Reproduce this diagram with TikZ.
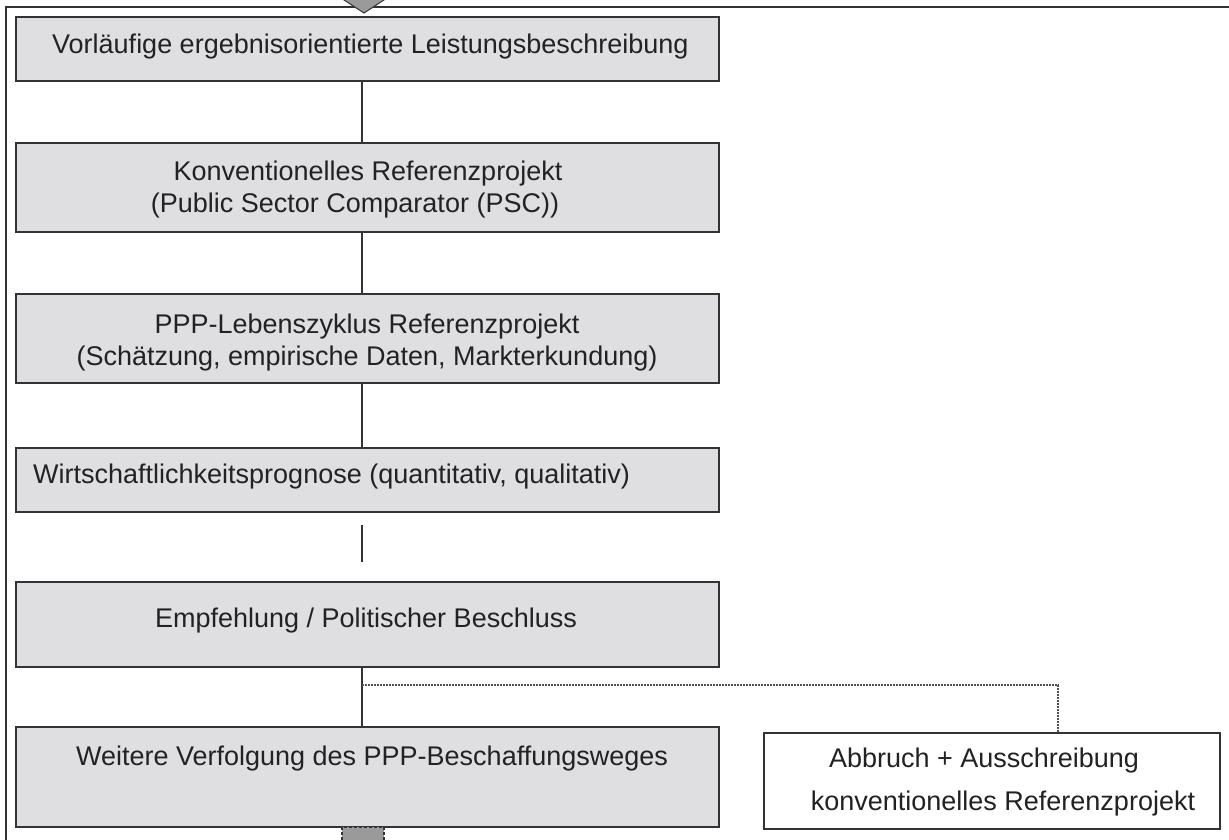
\documentclass[tikz,border=0pt]{standalone}
\usepackage{fontspec}
\setmainfont{Liberation Sans}
\begin{document}
\begin{tikzpicture}[x=1pt, y=-1pt,
    stepbox/.style={draw=borderColour, fill=fillColourBox, line width=1.5pt, inner sep=0pt, outer sep=0pt, anchor=north west, minimum width=703pt},
    plainbox/.style={draw=borderColour, fill=white, line width=1.5pt, inner sep=0pt, outer sep=0pt, anchor=north west, minimum width=456pt},
    boxtext/.style={font=\fontsize{27}{32}\selectfont, text=textColour, inner sep=0pt, anchor=base},
    link/.style={draw=borderColour, line width=1.5pt},
    dotlink/.style={draw=borderColour!85, line width=1.2pt, dash pattern=on 2pt off 1pt}]
    \definecolor{borderColour}{HTML}{333333}
    \definecolor{fillColourBox}{HTML}{DFDFE1}
    \definecolor{textColour}{HTML}{222222}
    \definecolor{arrowColour}{HTML}{9A9A9A}

    \useasboundingbox (0,0) rectangle (1229,839);
    \clip (0,0) rectangle (1229,839);

    % Draw outer frame
    \draw[draw=borderColour, line width=2.2pt] (6,845) -- (6,7) -- (1240,7);

    % Draw process boxes
    \node[stepbox, minimum height=64pt] (vorl) at (16,17) {};
    \node[stepbox, minimum height=89pt] (konv) at (16,143) {};
    \node[stepbox, minimum height=89pt] (ppp) at (16,294) {};
    \node[stepbox, minimum height=64pt] (wirt) at (16,448) {};
    \node[stepbox, minimum height=85pt] (empf) at (16,582) {};
    \node[stepbox, minimum height=100pt] (weit) at (16,727) {};
    \node[plainbox, minimum height=96pt] (abbr) at (764,733) {};

    % Box texts
    \node[boxtext, anchor=base west] (vorlText) at (52,53) {Vorläufige ergebnisorientierte Leistungsbeschreibung};
    \node[boxtext] (konvTextA) at (368,180) {Konventionelles Referenzprojekt};
    \node[boxtext] (konvTextB) at (355,212) {(Public Sector Comparator (PSC))};
    \node[boxtext] (pppTextA) at (367,333) {PPP-Lebenszyklus Referenzprojekt};
    \node[boxtext] (pppTextB) at (367,365) {(Schätzung, empirische Daten, Markterkundung)};
    \node[boxtext, anchor=base west] (wirtText) at (33,483) {Wirtschaftlichkeitsprognose (quantitativ, qualitativ)};
    \node[boxtext] (empfText) at (366,627) {Empfehlung / Politischer Beschluss};
    \node[boxtext] (weitText) at (372,765) {Weitere Verfolgung des PPP-Beschaffungsweges};
    \node[boxtext] (abbrTextA) at (984,767) {Abbruch + Ausschreibung};
    \node[boxtext] (abbrTextB) at (1003,810) {konventionelles Referenzprojekt};

    % Draw connectors
    \coordinate (spine) at (362,0);
    \draw[link] (vorl.south -| spine) -- (konv.north -| spine);
    \draw[link] (konv.south -| spine) -- (ppp.north -| spine);
    \draw[link] (ppp.south -| spine) -- (wirt.north -| spine);
    \coordinate (gapTop) at (362,525);
    \coordinate (gapBot) at (362,562);
    \draw[link] (gapTop) -- (gapBot);
    \draw[link] (empf.south -| spine) -- (weit.north -| spine);

    % Dotted branch to the alternative
    \coordinate (branch) at (362,685);
    \coordinate (turn) at (1058,685);
    \draw[dotlink] (branch) -- (turn) -- (turn |- abbr.north);

    % Arrow stubs at top and bottom
    \filldraw[fill=arrowColour, draw=borderColour, line width=1pt] (338,-4) -- (390,-4) -- (364,13) -- cycle;
    \filldraw[fill=arrowColour, draw=borderColour, line width=1.2pt, densely dashed] (342,827) rectangle (384,845);

\end{tikzpicture}
\end{document}
